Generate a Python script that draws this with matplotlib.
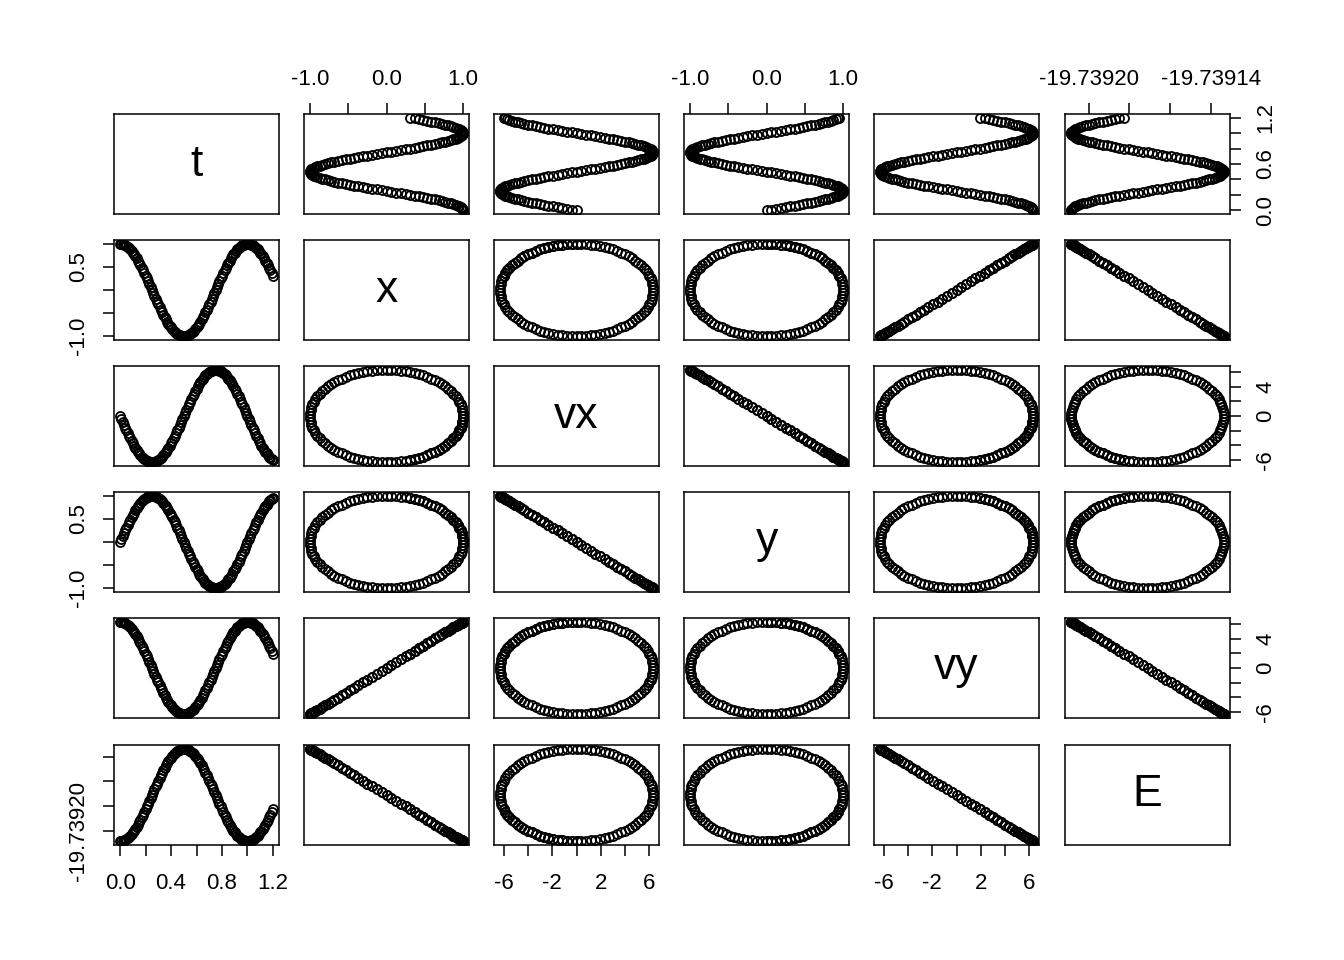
import matplotlib
matplotlib.use('Agg')
import matplotlib.pyplot as plt

plt.rcParams['font.family'] = ['Liberation Sans', 'DejaVu Sans']

# orbit table, one list per column
t = [0.00, 0.01, 0.02, 0.03, 0.04, 0.05, 0.06, 0.07, 0.08, 0.09,
     0.10, 0.11, 0.12, 0.13, 0.14, 0.15, 0.16, 0.17, 0.18, 0.19,
     0.20, 0.21, 0.22, 0.23, 0.24, 0.25, 0.26, 0.27, 0.28, 0.29,
     0.30, 0.31, 0.32, 0.33, 0.34, 0.35, 0.36, 0.37, 0.38, 0.39,
     0.40, 0.41, 0.42, 0.43, 0.44, 0.45, 0.46, 0.47, 0.48, 0.49,
     0.50, 0.51, 0.52, 0.53, 0.54, 0.55, 0.56, 0.57, 0.58, 0.59,
     0.60, 0.61, 0.62, 0.63, 0.64, 0.65, 0.66, 0.67, 0.68, 0.69,
     0.70, 0.71, 0.72, 0.73, 0.74, 0.75, 0.76, 0.77, 0.78, 0.79,
     0.80, 0.81, 0.82, 0.83, 0.84, 0.85, 0.86, 0.87, 0.88, 0.89,
     0.90, 0.91, 0.92, 0.93, 0.94, 0.95, 0.96, 0.97, 0.98, 0.99,
     1.00, 1.01, 1.02, 1.03, 1.04, 1.05, 1.06, 1.07, 1.08, 1.09,
     1.10, 1.11, 1.12, 1.13, 1.14, 1.15, 1.16, 1.17, 1.18, 1.19,
     1.20]

x = [1.000, 0.998, 0.992, 0.982, 0.969, 0.951, 0.930, 0.905, 0.876, 0.844,
     0.809, 0.771, 0.729, 0.685, 0.637, 0.588, 0.536, 0.482, 0.426, 0.368,
     0.309, 0.249, 0.187, 0.125, 0.063, 0.000,
     -0.063, -0.125, -0.187, -0.249, -0.309, -0.368, -0.426, -0.482, -0.536,
     -0.588, -0.637, -0.685, -0.729, -0.771, -0.809, -0.844, -0.876, -0.905,
     -0.930, -0.951, -0.969, -0.982, -0.992, -0.998, -1.000,
     -0.998, -0.992, -0.982, -0.969, -0.951, -0.930, -0.905, -0.876, -0.844,
     -0.809, -0.771, -0.729, -0.685, -0.637, -0.588, -0.536, -0.482, -0.426,
     -0.368, -0.309, -0.249, -0.187, -0.125, -0.063, 0.000,
     0.063, 0.125, 0.187, 0.249, 0.309, 0.368, 0.426, 0.482, 0.536, 0.588,
     0.637, 0.685, 0.729, 0.771, 0.809, 0.844, 0.876, 0.905, 0.930, 0.951,
     0.969, 0.982, 0.992, 0.998, 1.000,
     0.998, 0.992, 0.982, 0.969, 0.951, 0.930, 0.905, 0.876, 0.844, 0.809,
     0.771, 0.729, 0.685, 0.637, 0.588, 0.536, 0.482, 0.426, 0.368, 0.309]

vx = [0.00, -0.39, -0.79, -1.18, -1.56, -1.94, -2.31, -2.68, -3.03, -3.37,
      -3.69, -4.01, -4.30, -4.58, -4.84, -5.08, -5.31, -5.51, -5.69, -5.84,
      -5.98, -6.09, -6.17, -6.23, -6.27, -6.28,
      -6.27, -6.23, -6.17, -6.09, -5.98, -5.84, -5.69, -5.51, -5.31, -5.08,
      -4.84, -4.58, -4.30, -4.01, -3.69, -3.37, -3.03, -2.68, -2.31, -1.94,
      -1.56, -1.18, -0.79, -0.39, 0.00,
      0.39, 0.79, 1.18, 1.56, 1.94, 2.31, 2.68, 3.03, 3.37, 3.69,
      4.01, 4.30, 4.58, 4.84, 5.08, 5.31, 5.51, 5.69, 5.84, 5.98,
      6.09, 6.17, 6.23, 6.27, 6.28,
      6.27, 6.23, 6.17, 6.09, 5.98, 5.84, 5.69, 5.51, 5.31, 5.08,
      4.84, 4.58, 4.30, 4.01, 3.69, 3.37, 3.03, 2.68, 2.31, 1.94,
      1.56, 1.18, 0.79, 0.39, 0.00,
      -0.39, -0.79, -1.18, -1.56, -1.94, -2.31, -2.68, -3.03, -3.37, -3.69,
      -4.01, -4.30, -4.58, -4.84, -5.08, -5.31, -5.51, -5.69, -5.84, -5.98]

y = [0.000, 0.063, 0.125, 0.187, 0.249, 0.309, 0.368, 0.426, 0.482, 0.536,
     0.588, 0.637, 0.685, 0.729, 0.771, 0.809, 0.844, 0.876, 0.905, 0.930,
     0.951, 0.969, 0.982, 0.992, 0.998, 1.000,
     0.998, 0.992, 0.982, 0.969, 0.951, 0.930, 0.905, 0.876, 0.844, 0.809,
     0.771, 0.729, 0.685, 0.637, 0.588, 0.536, 0.482, 0.426, 0.368, 0.309,
     0.249, 0.187, 0.125, 0.063, 0.000,
     -0.063, -0.125, -0.187, -0.249, -0.309, -0.368, -0.426, -0.482, -0.536,
     -0.588, -0.637, -0.685, -0.729, -0.771, -0.809, -0.844, -0.876, -0.905,
     -0.930, -0.951, -0.969, -0.982, -0.992, -0.998, -1.000,
     -0.998, -0.992, -0.982, -0.969, -0.951, -0.930, -0.905, -0.876, -0.844,
     -0.809, -0.771, -0.729, -0.685, -0.637, -0.588, -0.536, -0.482, -0.426,
     -0.368, -0.309, -0.249, -0.187, -0.125, -0.063, 0.000,
     0.063, 0.125, 0.187, 0.249, 0.309, 0.368, 0.426, 0.482, 0.536, 0.588,
     0.637, 0.685, 0.729, 0.771, 0.809, 0.844, 0.876, 0.905, 0.930, 0.951]

vy = [6.28, 6.27, 6.23, 6.17, 6.09, 5.98, 5.84, 5.69, 5.51, 5.31,
      5.08, 4.84, 4.58, 4.30, 4.01, 3.69, 3.37, 3.03, 2.68, 2.31,
      1.94, 1.56, 1.18, 0.79, 0.39, 0.00,
      -0.39, -0.79, -1.18, -1.56, -1.94, -2.31, -2.68, -3.03, -3.37, -3.69,
      -4.01, -4.30, -4.58, -4.84, -5.08, -5.31, -5.51, -5.69, -5.84, -5.98,
      -6.09, -6.17, -6.23, -6.27, -6.28,
      -6.27, -6.23, -6.17, -6.09, -5.98, -5.84, -5.69, -5.51, -5.31, -5.08,
      -4.84, -4.58, -4.30, -4.01, -3.69, -3.37, -3.03, -2.68, -2.31, -1.94,
      -1.56, -1.18, -0.79, -0.39, 0.00,
      0.39, 0.79, 1.18, 1.56, 1.94, 2.31, 2.68, 3.03, 3.37, 3.69,
      4.01, 4.30, 4.58, 4.84, 5.08, 5.31, 5.51, 5.69, 5.84, 5.98,
      6.09, 6.17, 6.23, 6.27, 6.28,
      6.27, 6.23, 6.17, 6.09, 5.98, 5.84, 5.69, 5.51, 5.31, 5.08,
      4.84, 4.58, 4.30, 4.01, 3.69, 3.37, 3.03, 2.68, 2.31, 1.94]

E = [-19.7392086, -19.7392085, -19.7392083, -19.7392079, -19.7392074,
     -19.7392068, -19.7392060, -19.7392050, -19.7392040, -19.7392028,
     -19.7392014, -19.7392000, -19.7391984, -19.7391968, -19.7391950,
     -19.7391931, -19.7391912, -19.7391892, -19.7391871, -19.7391849,
     -19.7391827, -19.7391804, -19.7391781, -19.7391758, -19.7391735,
     -19.7391711,
     -19.7391688, -19.7391664, -19.7391641, -19.7391618, -19.7391595,
     -19.7391573, -19.7391551, -19.7391530, -19.7391510, -19.7391491,
     -19.7391472, -19.7391454, -19.7391438, -19.7391422, -19.7391408,
     -19.7391394, -19.7391382, -19.7391372, -19.7391362, -19.7391354,
     -19.7391348, -19.7391343, -19.7391339, -19.7391337, -19.7391336,
     -19.7391337, -19.7391339, -19.7391343, -19.7391348, -19.7391354,
     -19.7391362, -19.7391372, -19.7391382, -19.7391394, -19.7391408,
     -19.7391422, -19.7391438, -19.7391454, -19.7391472, -19.7391491,
     -19.7391510, -19.7391530, -19.7391551, -19.7391573, -19.7391595,
     -19.7391618, -19.7391641, -19.7391664, -19.7391688, -19.7391711,
     -19.7391735, -19.7391758, -19.7391781, -19.7391804, -19.7391827,
     -19.7391849, -19.7391871, -19.7391892, -19.7391912, -19.7391931,
     -19.7391950, -19.7391968, -19.7391984, -19.7392000, -19.7392014,
     -19.7392028, -19.7392040, -19.7392050, -19.7392060, -19.7392068,
     -19.7392074, -19.7392079, -19.7392083, -19.7392085, -19.7392086,
     -19.7392085, -19.7392083, -19.7392079, -19.7392074, -19.7392068,
     -19.7392060, -19.7392050, -19.7392040, -19.7392028, -19.7392014,
     -19.7392000, -19.7391984, -19.7391968, -19.7391950, -19.7391931,
     -19.7391912, -19.7391892, -19.7391871, -19.7391849, -19.7391827]

names = ['t', 'x', 'vx', 'y', 'vy', 'E']
columns = [t, x, vx, y, vy, E]

# tick positions, and which labels survive on horizontal / vertical axes
t_ticks = [0.0, 0.2, 0.4, 0.6, 0.8, 1.0, 1.2]
pos_ticks = [-1.0, -0.5, 0.0, 0.5, 1.0]
vel_ticks = [-6, -4, -2, 0, 2, 4, 6]
E_ticks = [-19.73920, -19.73918, -19.73916, -19.73914]

ticks = {'t': t_ticks, 'x': pos_ticks, 'vx': vel_ticks,
         'y': pos_ticks, 'vy': vel_ticks, 'E': E_ticks}
h_labels = {'t': ['0.0', '', '0.4', '', '0.8', '', '1.2'],
            'x': ['-1.0', '', '0.0', '', '1.0'],
            'vx': ['-6', '', '-2', '', '2', '', '6'],
            'y': ['-1.0', '', '0.0', '', '1.0'],
            'vy': ['-6', '', '-2', '', '2', '', '6'],
            'E': ['-19.73920', '', '', '-19.73914']}
v_labels = {'t': ['0.0', '', '', '0.6', '', '', '1.2'],
            'x': ['-1.0', '', '', '0.5', ''],
            'vx': ['-6', '', '', '0', '', '4', ''],
            'y': ['-1.0', '', '', '0.5', ''],
            'vy': ['-6', '', '', '0', '', '4', ''],
            'E': ['-19.73920', '', '', '']}

W, H = 1344.0, 960.0
lefts = [114, 304, 494, 684, 874, 1065]
tops = [114, 240, 366, 492, 618, 745]
pw, ph = 165, 100


def lims(v):
    lo, hi = min(v), max(v)
    d = 0.04 * (hi - lo)
    return lo - d, hi + d


fig = plt.figure(figsize=(W / 100, H / 100), dpi=100)
n = len(names)
for i in range(n):
    for j in range(n):
        ax = fig.add_axes([lefts[j] / W, 1 - (tops[i] + ph) / H, pw / W, ph / H])
        for s in ax.spines.values():
            s.set_linewidth(1.1)
        ax.set_xlim(lims(columns[j]))
        ax.set_ylim(lims(columns[i]))
        ax.tick_params(length=8, width=1.1, labelsize=16, direction='out')
        ax.tick_params(axis='y', pad=10)
        if i == j:
            ax.text(0.5, 0.5, names[i], transform=ax.transAxes, ha='center',
                    va='center', fontsize=32)
        else:
            ax.plot(columns[j], columns[i], 'o', mfc='none', mec='black',
                    ms=6.5, mew=1.3, ls='none')
        # x axis: top on even columns of row 1, bottom on odd columns of last row
        if i == 0 and j % 2 == 1:
            ax.xaxis.tick_top()
            ax.tick_params(axis='x', pad=9)
            ax.set_xticks(ticks[names[j]], h_labels[names[j]])
        elif i == n - 1 and j % 2 == 0:
            ax.tick_params(axis='x', pad=12)
            ax.set_xticks(ticks[names[j]], h_labels[names[j]])
        else:
            ax.set_xticks([])
        # y axis: left on even rows of col 1, right on odd rows of last col
        if j == 0 and i % 2 == 1:
            ax.set_yticks(ticks[names[i]], v_labels[names[i]])
        elif j == n - 1 and i % 2 == 0:
            ax.yaxis.tick_right()
            ax.set_yticks(ticks[names[i]], v_labels[names[i]])
        else:
            ax.set_yticks([])
        for lab in ax.get_yticklabels():
            lab.set_rotation(90)
            lab.set_va('center')

fig.savefig('out.png', dpi=100)
